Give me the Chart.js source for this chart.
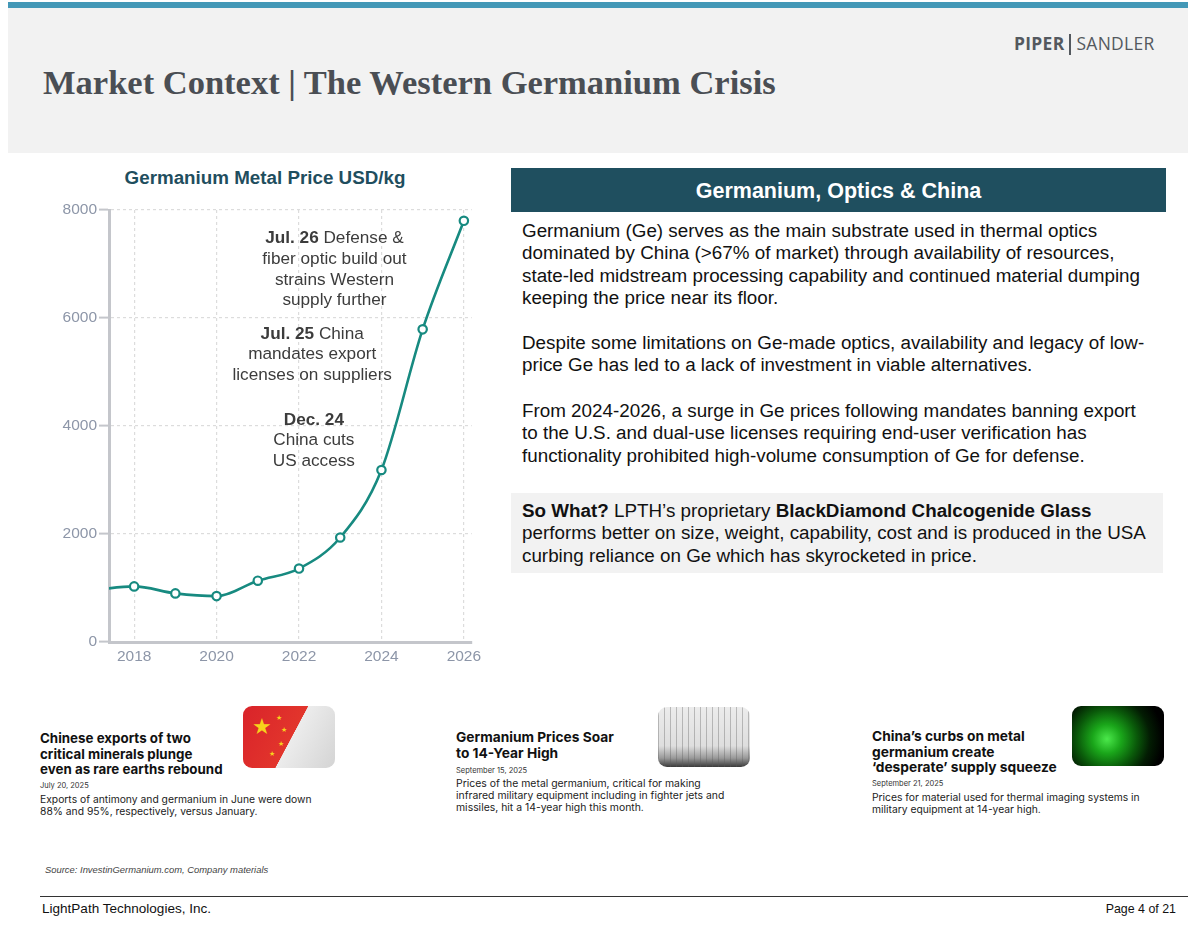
<!DOCTYPE html>
<html>
<head>
<meta charset="utf-8">
<script src="https://cdn.jsdelivr.net/npm/chart.js@4.4.1/dist/chart.umd.min.js"></script>
<style>
  html, body { margin:0; padding:0; background:#fff; }
  body { width:1196px; height:928px; position:relative; overflow:hidden; font-family:"Liberation Sans", Arial, sans-serif; }
  .abs { position:absolute; white-space:nowrap; }
  #topbar { left:8px; top:2px; width:1180px; height:6px; background:#4398b7; }
  #header { left:8px; top:8px; width:1180px; height:145px; background:#f2f2f2; }
  #title { left:43px; top:62px; font-family:"Liberation Serif","Times New Roman",serif; font-weight:bold; font-size:36px; color:#4a4e54; line-height:40px; }
  #logo { left:1014px; top:32px; font-family:"Open Sans","DejaVu Sans",sans-serif; font-size:17px; color:#54595f; line-height:22px; letter-spacing:0.3px; }
  #logo b { font-weight:700; }
  #logo .bar { display:inline-block; width:2px; height:21px; background:#54595f; vertical-align:-5px; margin:0 5px 0 5px; }
  #ctitle { left:0px; width:530px; top:166px; text-align:center; font-weight:bold; font-size:18.5px; color:#1f4e5e; line-height:24px; }
  #chartwrap { left:40px; top:200px; width:452px; height:480px; }
  #boxhead { left:511px; top:168px; width:655px; height:44px; background:#1f4f5f; color:#fff; font-weight:bold; font-size:21.5px; line-height:46px; text-align:center; }
  .para { left:522px; font-size:18.7px; line-height:22.4px; color:#111; }
  #sowhat { left:511px; top:493px; width:652px; height:80px; background:#f2f2f2; }
  .card { font-family:"Inter","Lato","Open Sans",sans-serif; color:#111; }
  .hl { font-weight:700; font-size:13.5px; line-height:15.6px; }
  .dt { font-size:7.5px; line-height:10px; color:#333; }
  .bd { font-size:10.5px; line-height:12.2px; color:#222; }
  .img { border-radius:9px; overflow:hidden; }
  #img1 { left:243px; top:706px; width:92px; height:62px; background:linear-gradient(118deg,#d9232a 0%,#e2352c 52%,#ececec 52.5%,#d4d4d4 100%); }
  #img2 { left:658px; top:707px; width:92px; height:60px; background:
     repeating-linear-gradient(90deg, rgba(90,90,90,0.35) 0 1px, transparent 1px 6px),
     linear-gradient(#ececec 0%, #dedede 65%, #9a9a9a 85%, #3a3a3a 100%); }
  #img3 { left:1072px; top:706px; width:92px; height:60px; background:radial-gradient(circle at 38% 55%, #4be84b 0%, #1aa61a 22%, #0a5a0a 45%, #031d03 65%, #000 85%); }
  #source { left:45px; top:864px; font-size:8.7px; font-style:italic; color:#444; line-height:12px; }
  #rule { left:40px; top:896px; width:1148px; height:1px; background:#333; }
  #company { left:42px; top:901px; font-size:12.4px; color:#111; line-height:16px; }
  #page { right:20px; top:901px; font-size:12.4px; color:#111; line-height:16px; }
</style>
</head>
<body>
<div id="topbar" class="abs"></div>
<div id="header" class="abs"></div>
<div id="title" class="abs"><span id="titleSpan">Market Context | The Western Germanium Crisis</span></div>
<div id="logo" class="abs"><b>PIPER</b><span class="bar"></span>SANDLER</div>

<div id="ctitle" class="abs">Germanium Metal Price USD/kg</div>
<div id="chartwrap" class="abs"><canvas id="chart" width="452" height="480"></canvas></div>

<div id="boxhead" class="abs">Germanium, Optics &amp; China</div>

<div class="abs para" id="p1" style="top:220px;"><span id="refLine">Germanium (Ge) serves as the main substrate used in thermal optics</span><br>dominated by China (&gt;67% of market) through availability of resources,<br>state-led midstream processing capability and continued material dumping<br>keeping the price near its floor.</div>
<div class="abs para" id="p2" style="top:332px;">Despite some limitations on Ge-made optics, availability and legacy of low-<br>price Ge has led to a lack of investment in viable alternatives.</div>
<div class="abs para" id="p3" style="top:400px;">From 2024-2026, a surge in Ge prices following mandates banning export<br>to the U.S. and dual-use licenses requiring end-user verification has<br>functionality prohibited high-volume consumption of Ge for defense.</div>
<div id="sowhat" class="abs"></div>
<div class="abs para" id="p4" style="top:500px;"><b>So What?</b> LPTH’s proprietary <b>BlackDiamond Chalcogenide Glass</b><br>performs better on size, weight, capability, cost and is produced in the USA<br>curbing reliance on Ge which has skyrocketed in price.</div>

<!-- news cards -->
<div class="abs card hl" id="c1h" style="left:40px; top:731px;"><span id="c1ref">Chinese exports of two</span><br>critical minerals plunge<br>even as rare earths rebound</div>
<div class="abs card dt" id="c1d" style="left:40px; top:781px;">July 20, 2025</div>
<div class="abs card bd" id="c1b" style="left:40px; top:793px;"><span id="c1bref">Exports of antimony and germanium in June were down</span><br>88% and 95%, respectively, versus January.</div>
<div class="abs img" id="img1"><span style="position:absolute;left:9px;top:10px;color:#f7d21b;font-size:22px;line-height:22px;">★</span><span style="position:absolute;left:33px;top:8px;color:#f7d21b;font-size:7px;">★</span><span style="position:absolute;left:38px;top:20px;color:#f7d21b;font-size:7px;">★</span><span style="position:absolute;left:35px;top:34px;color:#f7d21b;font-size:7px;">★</span><span style="position:absolute;left:26px;top:44px;color:#f7d21b;font-size:7px;">★</span></div>

<div class="abs card hl" id="c2h" style="left:456px; top:730px;"><span id="c2ref">Germanium Prices Soar</span><br>to 14-Year High</div>
<div class="abs card dt" id="c2d" style="left:456px; top:766px;">September 15, 2025</div>
<div class="abs card bd" id="c2b" style="left:456px; top:778px;">Prices of the metal germanium, critical for making<br><span id="c2bref">infrared military equipment including in fighter jets and</span><br>missiles, hit a 14-year high this month.</div>
<div class="abs img" id="img2"></div>

<div class="abs card hl" id="c3h" style="left:872px; top:729px;"><span id="c3ref">China’s curbs on metal</span><br>germanium create<br>‘desperate’ supply squeeze</div>
<div class="abs card dt" id="c3d" style="left:872px; top:779px;">September 21, 2025</div>
<div class="abs card bd" id="c3b" style="left:872px; top:791px;"><span id="c3bref">Prices for material used for thermal imaging systems in</span><br>military equipment at 14-year high.</div>
<div class="abs img" id="img3"></div>

<div id="source" class="abs">Source: InvestinGermanium.com, Company materials</div>
<div id="rule" class="abs"></div>
<div id="company" class="abs">LightPath Technologies, Inc.</div>
<div id="page" class="abs">Page 4 of 21</div>

<script>
// ---- data ----
const years  = [2017, 2018, 2019, 2020, 2021, 2022, 2023, 2024, 2025, 2026];
const prices = [960, 1030, 900, 850, 1135, 1360, 1935, 3185, 5790, 7800];
const xTickYears = [2018, 2020, 2022, 2024, 2026];
const yTickValues = [0, 2000, 4000, 6000, 8000];
const annotations = [
  { x: 2022.86, y: 7476, lines: [[["Jul. 26", true], [" Defense &", false]], [["fiber optic build out", false]], [["strains Western", false]], [["supply further", false]]] },
  { x: 2022.32, y: 5705, lines: [[["Jul. 25", true], [" China", false]], [["mandates export", false]], [["licenses on suppliers", false]]] },
  { x: 2022.36, y: 4113, lines: [[["Dec. 24", true]], [["China cuts", false]], [["US access", false]]] }
];

// ---- text fitting ----
function fitTo(block, ref, target) {
  const w = ref.getBoundingClientRect().width;
  const fs = parseFloat(getComputedStyle(block).fontSize);
  block.style.fontSize = (fs * target / w) + 'px';
}
const $ = id => document.getElementById(id);
fitTo($('title'), $('titleSpan'), 733);
fitTo($('logo'), $('logo'), 141);
fitTo($('ctitle'), (function(){ const s=document.createElement('span'); s.textContent=$('ctitle').textContent; $('ctitle').textContent=''; $('ctitle').appendChild(s); return s; })(), 281);
(function(){
  const ref = $('refLine');
  const w = ref.getBoundingClientRect().width;
  const fs = parseFloat(getComputedStyle($('p1')).fontSize);
  const nfs = fs * 575 / w;
  ['p1','p2','p3','p4'].forEach(id => $(id).style.fontSize = nfs + 'px');
})();
fitTo($('c1h'), $('c1ref'), 151);
fitTo($('c2h'), $('c2ref'), 158);
fitTo($('c3h'), $('c3ref'), 153);
fitTo($('c1b'), $('c1bref'), 272);
fitTo($('c2b'), $('c2bref'), 269);
fitTo($('c3b'), $('c3bref'), 268);
fitTo($('source'), $('source'), 223);
fitTo($('company'), $('company'), 169);

// ---- annotation plugin ----
const annotationPlugin = {
  id: 'annot',
  afterDatasetsDraw(chart) {
    const ctx = chart.ctx, xs = chart.scales.x, ys = chart.scales.y;
    const fs = 17.2, lh = 20.8;
    ctx.save();
    ctx.fillStyle = '#3c3c3c';
    ctx.textBaseline = 'middle';
    ctx.textAlign = 'left';
    annotations.forEach(a => {
      const cx = xs.getPixelForValue(a.x);
      const y0 = ys.getPixelForValue(a.y);
      a.lines.forEach((segs, i) => {
        let total = 0;
        const widths = segs.map(([t, b]) => {
          ctx.font = (b ? 'bold ' : '') + fs + 'px "Liberation Sans", Arial, sans-serif';
          const w = ctx.measureText(t).width; total += w; return w;
        });
        let x = cx - total / 2;
        segs.forEach(([t, b], k) => {
          ctx.font = (b ? 'bold ' : '') + fs + 'px "Liberation Sans", Arial, sans-serif';
          ctx.fillText(t, x, y0 + i * lh);
          x += widths[k];
        });
      });
    });
    ctx.restore();
  }
};

const tickFont = { family: '"Liberation Sans", Arial, sans-serif', size: 15.5 };
const tickColor = '#8d96a8';
const axisColor = '#c4c6cb';

new Chart($('chart'), {
  type: 'line',
  data: {
    datasets: [{
      data: years.map((y, i) => ({ x: y, y: prices[i] })),
      borderColor: '#178a80',
      borderWidth: 2.6,
      cubicInterpolationMode: 'monotone',
      pointRadius: 4.2,
      pointBorderWidth: 2.2,
      pointBackgroundColor: '#ffffff',
      pointBorderColor: '#178a80'
    }]
  },
  options: {
    responsive: false,
    animation: false,
    devicePixelRatio: 1,
    layout: { padding: { top: 10, right: 20.3, left: 0, bottom: 0 } },
    plugins: { legend: { display: false }, tooltip: { enabled: false }, title: { display: false } },
    scales: {
      x: {
        type: 'linear',
        min: 2017.39,
        max: 2026.19,
        afterBuildTicks: s => { s.ticks = xTickYears.map(v => ({ value: v })); },
        afterFit: s => { s.height = 38; s.paddingLeft = 0; s.paddingRight = 0; },
        ticks: { font: tickFont, color: tickColor, padding: 5, callback: v => String(v), maxRotation: 0, autoSkip: false },
        grid: { color: '#dcdcdc', lineWidth: 1.2, drawTicks: false },
        border: { display: true, color: axisColor, width: 3, dash: [3, 3] }
      },
      y: {
        type: 'linear',
        min: 0,
        max: 8000,
        afterBuildTicks: s => { s.ticks = yTickValues.map(v => ({ value: v })); },
        afterFit: s => { s.width = 69; s.paddingTop = 0; s.paddingBottom = 0; },
        ticks: { font: tickFont, color: tickColor, padding: 2, callback: v => String(v) },
        grid: { color: '#dcdcdc', lineWidth: 1.2, drawTicks: true, tickLength: 10, tickColor: axisColor, tickWidth: 2, tickBorderDash: [] },
        border: { display: true, color: axisColor, width: 3, dash: [3, 3] }
      }
    }
  },
  plugins: [annotationPlugin]
});
</script>
</body>
</html>
